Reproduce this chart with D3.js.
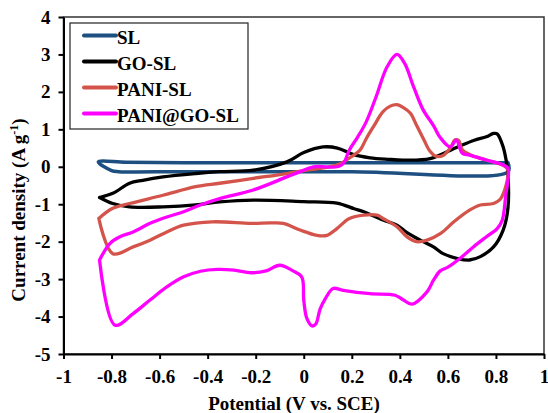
<!DOCTYPE html>
<html>
<head>
<meta charset="utf-8">
<script src="https://cdn.jsdelivr.net/npm/d3@7/dist/d3.min.js"></script>
<style>
  html, body { margin: 0; padding: 0; background: #fff; }
  svg { display: block; }
  svg text { font-family: "Liberation Serif", "Times New Roman", Times, "DejaVu Serif", serif; font-weight: bold; fill: #000; }
</style>
</head>
<body>
<svg id="chart" width="548" height="413"></svg>
<script>
// Cyclic voltammograms: potential (V vs. SCE) vs. current density (A/g)
const seriesNames = ["SL", "GO-SL", "PANI-SL", "PANI@GO-SL"];
const seriesColors = ["#1d4f80", "#000000", "#d4544c", "#ff00ff"];

// Each loop: [potential, current density] in scan order
const slLoop = [
  [0.85, 0.11], [0.2, 0.11], [-0.5, 0.11], [-0.74, 0.12], [-0.855, 0.13],
  [-0.80, -0.10], [-0.77, -0.13], [-0.5, -0.13], [0.2, -0.13], [0.85, -0.13], [0.85, 0.11]
];

const goslLoop = [
  [-0.85, -0.82], [-0.795, -0.71], [-0.725, -0.44], [-0.67, -0.36], [-0.586, -0.27],
  [-0.45, -0.18], [-0.35, -0.13], [-0.21, -0.09], [-0.07, 0.13], [0.0, 0.38],
  [0.08, 0.53], [0.14, 0.5], [0.205, 0.33], [0.276, 0.24], [0.35, 0.2],
  [0.415, 0.18], [0.526, 0.22], [0.64, 0.53], [0.71, 0.71], [0.76, 0.8],
  [0.79, 0.89], [0.805, 0.88], [0.83, 0.53], [0.847, 0.0], [0.85, -0.17],
  [0.85, -1.1], [0.83, -1.69], [0.79, -2.14], [0.735, -2.4], [0.69, -2.49],
  [0.64, -2.45], [0.58, -2.32], [0.54, -2.14], [0.485, -1.96], [0.43, -1.76],
  [0.388, -1.56], [0.33, -1.42], [0.25, -1.2], [0.21, -1.12], [0.138, -0.97],
  [0.0, -0.93], [-0.21, -0.89], [-0.35, -0.94], [-0.45, -1.02], [-0.586, -1.07],
  [-0.725, -1.07], [-0.795, -0.98], [-0.85, -0.82]
];

const paniLoop = [
  [-0.853, -1.38], [-0.795, -1.11], [-0.725, -0.98], [-0.586, -0.76], [-0.45, -0.53],
  [-0.35, -0.44], [-0.21, -0.31], [-0.07, -0.18], [0.013, -0.09], [0.14, 0.05],
  [0.205, 0.3], [0.235, 0.45], [0.26, 0.75], [0.29, 1.07], [0.33, 1.47],
  [0.36, 1.62], [0.388, 1.66], [0.415, 1.58], [0.444, 1.43], [0.47, 1.1],
  [0.5, 0.72], [0.525, 0.42], [0.55, 0.28], [0.58, 0.3], [0.61, 0.5],
  [0.63, 0.72], [0.645, 0.7], [0.66, 0.45], [0.7, 0.3], [0.76, 0.18],
  [0.83, 0.04], [0.85, -0.09], [0.82, -0.85], [0.79, -0.98], [0.735, -1.02],
  [0.69, -1.16], [0.625, -1.47], [0.57, -1.78], [0.513, -1.96], [0.47, -2.0],
  [0.43, -1.87], [0.388, -1.6], [0.33, -1.38], [0.305, -1.29], [0.25, -1.29],
  [0.19, -1.38], [0.138, -1.65], [0.097, -1.83], [0.055, -1.83], [-0.015, -1.69],
  [-0.085, -1.51], [-0.14, -1.5], [-0.22, -1.51], [-0.38, -1.47], [-0.5, -1.56],
  [-0.57, -1.74], [-0.64, -1.96], [-0.71, -2.14], [-0.795, -2.32], [-0.853, -1.38]
];

const paniGoLoop = [
  [-0.85, -2.49], [-0.807, -2.05], [-0.765, -1.87], [-0.71, -1.74], [-0.64, -1.51],
  [-0.57, -1.34], [-0.5, -1.2], [-0.43, -1.02], [-0.35, -0.85], [-0.21, -0.62],
  [-0.07, -0.27], [-0.015, -0.13], [0.04, 0.0], [0.14, 0.0], [0.165, 0.09],
  [0.19, 0.45], [0.225, 0.8], [0.26, 1.2], [0.3, 1.85], [0.347, 2.67],
  [0.388, 3.0], [0.42, 2.76], [0.457, 2.14], [0.497, 1.52], [0.54, 1.1],
  [0.568, 0.78], [0.61, 0.53], [0.635, 0.71], [0.66, 0.36], [0.69, 0.31],
  [0.76, 0.18], [0.83, 0.05], [0.85, -0.04], [0.84, -0.8], [0.826, -1.43],
  [0.805, -1.65], [0.76, -1.87], [0.706, -2.14], [0.65, -2.45], [0.6, -2.68],
  [0.568, -2.78], [0.54, -3.03], [0.513, -3.34], [0.45, -3.67], [0.415, -3.56],
  [0.38, -3.43], [0.276, -3.39], [0.164, -3.3], [0.122, -3.25], [0.09, -3.52],
  [0.068, -3.8], [0.05, -4.2], [0.035, -4.25], [0.013, -4.05], [0.0, -3.56],
  [-0.008, -2.95], [-0.045, -2.78], [-0.1, -2.63], [-0.157, -2.78], [-0.22, -2.83],
  [-0.29, -2.76], [-0.36, -2.74], [-0.43, -2.79], [-0.5, -2.94], [-0.57, -3.21],
  [-0.64, -3.56], [-0.71, -3.92], [-0.786, -4.23], [-0.85, -2.49]
];

const loops = [slLoop, goslLoop, paniLoop, paniGoLoop];

const xTicks = [-1, -0.8, -0.6, -0.4, -0.2, 0, 0.2, 0.4, 0.6, 0.8, 1];
const xTickLabels = ["-1", "-0.8", "-0.6", "-0.4", "-0.2", "0", "0.2", "0.4", "0.6", "0.8", "1"];
const yTicks = [4, 3, 2, 1, 0, -1, -2, -3, -4, -5];
const yTickLabels = ["4", "3", "2", "1", "0", "-1", "-2", "-3", "-4", "-5"];

const svg = d3.select("#chart");
const plotLeft = 63.5, plotRight = 544, plotTop = 17, plotBottom = 354;

const x = d3.scaleLinear().domain([-1, 1]).range([plotLeft, plotRight]);
const y = d3.scaleLinear().domain([-5, 4]).range([plotBottom, plotTop]);

// plot frame
svg.append("rect")
  .attr("x", plotLeft).attr("y", plotTop)
  .attr("width", plotRight - plotLeft).attr("height", plotBottom - plotTop)
  .attr("fill", "none").attr("stroke", "#333").attr("stroke-width", 1.5);

// curves
const line = d3.line()
  .x(d => x(d[0])).y(d => y(d[1]))
  .curve(d3.curveCatmullRom.alpha(0.5));

svg.append("g").selectAll("path")
  .data(loops)
  .join("path")
  .attr("d", line)
  .attr("fill", "none")
  .attr("stroke", (d, i) => seriesColors[i])
  .attr("stroke-width", (d, i) => i === 0 ? 3.5 : 3.3)
  .attr("stroke-linejoin", "round")
  .attr("stroke-linecap", "round");

// axes
const xAxis = d3.axisBottom(x)
  .tickValues(xTicks)
  .tickFormat((d, i) => xTickLabels[i])
  .tickSizeInner(5).tickSizeOuter(0).tickPadding(11);
const yAxis = d3.axisLeft(y)
  .tickValues(yTicks)
  .tickFormat((d, i) => yTickLabels[i])
  .tickSizeInner(5).tickSizeOuter(0).tickPadding(8);

const gx = svg.append("g").attr("transform", `translate(0,${plotBottom})`).call(xAxis);
const gy = svg.append("g").attr("transform", `translate(${plotLeft},0)`).call(yAxis);
[gx, gy].forEach(g => {
  g.attr("font-family", null).attr("font-size", null);
  g.select(".domain").attr("stroke", "#000").attr("stroke-width", 2);
  g.selectAll(".tick line").attr("stroke", "#000").attr("stroke-width", 2);
  g.selectAll(".tick text").attr("fill", "#000").style("font-size", "19px");
});

// axis titles
svg.append("text")
  .attr("x", 294).attr("y", 410)
  .attr("text-anchor", "middle")
  .style("font-size", "19px")
  .text("Potential (V vs. SCE)");

const yTitle = svg.append("text")
  .attr("transform", "translate(25,210) rotate(-90)")
  .attr("text-anchor", "middle")
  .style("font-size", "19px");
yTitle.append("tspan").text("Current density (A g");
yTitle.append("tspan").attr("dy", -7).style("font-size", "12px").text("-1");
yTitle.append("tspan").attr("dy", 7).text(")");

// legend
const legend = svg.append("g");
legend.append("rect")
  .attr("x", 70).attr("y", 23).attr("width", 178).attr("height", 106)
  .attr("fill", "#fff").attr("stroke", "#222").attr("stroke-width", 1.2);
const rows = legend.selectAll("g.row")
  .data(seriesNames)
  .join("g")
  .attr("class", "row")
  .attr("transform", (d, i) => `translate(0,${43.5 + i * 26})`);
rows.append("line")
  .attr("x1", 84).attr("x2", 116)
  .attr("y1", -8).attr("y2", -8)
  .attr("stroke", (d, i) => seriesColors[i])
  .attr("stroke-width", 4)
  .attr("stroke-linecap", "round");
rows.append("text")
  .attr("x", 117).attr("y", 0)
  .style("font-size", "19px")
  .text(d => d);
</script>
</body>
</html>
